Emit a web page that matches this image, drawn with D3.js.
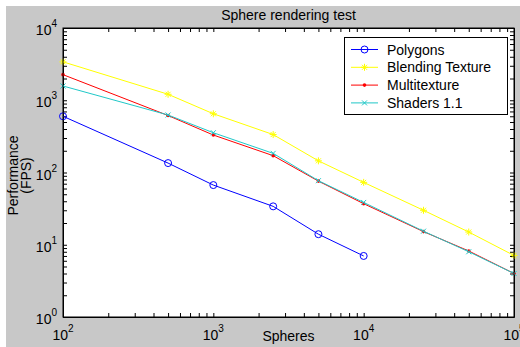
<!DOCTYPE html>
<html>
<head>
<meta charset="utf-8">
<script src="https://cdn.jsdelivr.net/npm/d3@7"></script>
<style>
  html, body { margin: 0; padding: 0; background: #ffffff; }
  svg { display: block; font-family: "Liberation Sans", Arial, sans-serif; }
</style>
</head>
<body>
<svg id="chart" width="520" height="347"></svg>
<script>
// ---- data ----
const spheres = [100, 500, 1000, 2500, 5000, 10000, 25000, 50000, 100000];
const polygons = [600, 135, 67, 34, 14, 7];
const blendingTexture = [3400, 1210, 650, 335, 145, 73, 30, 15, 7.1];
const multitexture = [2260, 615, 330, 171, 76, 37, 15.2, 8.2, 4.0];
const shaders11 = [1575, 625, 355, 184, 77, 38.5, 15.4, 8.0, 4.0];
const seriesNames = ["Polygons", "Blending Texture", "Multitexture", "Shaders 1.1"];
const xDecades = [2, 3, 4, 5];
const yDecades = [0, 1, 2, 3, 4];
const titleText = "Sphere rendering test";
const xLabel = "Spheres";
const yLabelLines = ["Performance", "(FPS)"];

const seriesValues = [polygons, blendingTexture, multitexture, shaders11];
const colors = ["#0000ff", "#ffff00", "#ff0000", "#20c8c8"];
const markers = ["circle", "star", "dot", "cross"];

const svg = d3.select("#chart");
const W = 520, H = 347;
const plot = { left: 63, right: 514, top: 28, bottom: 317 };

// figure background
svg.append("rect").attr("x", 6).attr("y", 6).attr("width", W - 6).attr("height", H - 6).attr("fill", "#c8c8c8");

const x = d3.scaleLog().domain([1e2, 1e5]).range([plot.left, plot.right]);
const y = d3.scaleLog().domain([1, 1e4]).range([plot.bottom, plot.top]);

// plot area
svg.append("rect").attr("x", plot.left).attr("y", plot.top)
  .attr("width", plot.right - plot.left).attr("height", plot.bottom - plot.top)
  .attr("fill", "#ffffff");

// tick values (major + minor)
function logTicks(d0, d1) {
  const t = [];
  for (let e = d0; e <= d1; e++) {
    for (let m = 1; m <= 9; m++) {
      const v = m * Math.pow(10, e);
      if (e === d1 && m > 1) break;
      t.push(v);
    }
  }
  return t;
}
const xTicks = logTicks(2, 5);
const yTicks = logTicks(0, 4);
const tickLen = 4;

function styleAxis(g) {
  g.select(".domain").attr("stroke", "#000").attr("stroke-width", 1);
  g.selectAll(".tick line").attr("stroke", "#000").attr("stroke-width", 1);
  g.selectAll(".tick text").remove();
}

svg.append("g").attr("transform", `translate(0,${plot.bottom})`)
  .call(d3.axisBottom(x).tickValues(xTicks).tickSizeInner(-tickLen).tickSizeOuter(0).tickFormat(""))
  .call(styleAxis);
svg.append("g").attr("transform", `translate(0,${plot.top})`)
  .call(d3.axisTop(x).tickValues(xTicks).tickSizeInner(-tickLen).tickSizeOuter(0).tickFormat(""))
  .call(styleAxis);
svg.append("g").attr("transform", `translate(${plot.left},0)`)
  .call(d3.axisLeft(y).tickValues(yTicks).tickSizeInner(-tickLen).tickSizeOuter(0).tickFormat(""))
  .call(styleAxis);
svg.append("g").attr("transform", `translate(${plot.right},0)`)
  .call(d3.axisRight(y).tickValues(yTicks).tickSizeInner(-tickLen).tickSizeOuter(0).tickFormat(""))
  .call(styleAxis);

// tick labels with superscripts
const xl = svg.append("g").attr("font-size", 14).attr("fill", "#000");
xDecades.forEach(e => {
  const t = xl.append("text").attr("x", x(Math.pow(10, e))).attr("y", 340).attr("text-anchor", "middle");
  t.append("tspan").text("10");
  t.append("tspan").attr("dy", -8).attr("font-size", 10).text(String(e));
});
const yl = svg.append("g").attr("font-size", 14).attr("fill", "#000");
yDecades.forEach(e => {
  const t = yl.append("text").attr("x", 57).attr("y", y(Math.pow(10, e)) + 7).attr("text-anchor", "end");
  t.append("tspan").text("10");
  t.append("tspan").attr("dy", -8).attr("font-size", 10).text(String(e));
});

// title and axis labels
svg.append("text").attr("x", (plot.left + plot.right) / 2).attr("y", 20)
  .attr("text-anchor", "middle").attr("font-size", 14).text(titleText);
svg.append("text").attr("x", (plot.left + plot.right) / 2).attr("y", 341)
  .attr("text-anchor", "middle").attr("font-size", 14).text(xLabel);
const yLab = svg.append("text").attr("transform", `translate(0,${(plot.top + plot.bottom) / 2 + 3}) rotate(-90)`)
  .attr("text-anchor", "middle").attr("font-size", 14);
yLab.append("tspan").attr("x", 0).attr("y", 18).text(yLabelLines[0]);
yLab.append("tspan").attr("x", 0).attr("y", 31).text(yLabelLines[1]);

// marker drawing
function drawMarker(g, type, cx, cy, color) {
  if (type === "circle") {
    g.append("circle").attr("cx", cx).attr("cy", cy).attr("r", 3.5)
      .attr("fill", "none").attr("stroke", color).attr("stroke-width", 1);
  } else if (type === "dot") {
    g.append("circle").attr("cx", cx).attr("cy", cy).attr("r", 1.8).attr("fill", color);
  } else if (type === "cross") {
    const s = 2.5;
    g.append("path").attr("d", `M${cx - s},${cy - s}L${cx + s},${cy + s}M${cx - s},${cy + s}L${cx + s},${cy - s}`)
      .attr("stroke", color).attr("stroke-width", 1);
  } else if (type === "star") {
    const s = 3.5, d = 2.5;
    g.append("path").attr("d",
      `M${cx - s},${cy}L${cx + s},${cy}M${cx},${cy - s}L${cx},${cy + s}` +
      `M${cx - d},${cy - d}L${cx + d},${cy + d}M${cx - d},${cy + d}L${cx + d},${cy - d}`)
      .attr("stroke", color).attr("stroke-width", 1);
  }
}

// series
const line = d3.line().x(d => x(d[0])).y(d => y(d[1]));
const plotG = svg.append("g");
seriesValues.forEach((vals, i) => {
  const pts = vals.map((v, j) => [spheres[j], v]);
  plotG.append("path").attr("d", line(pts)).attr("fill", "none")
    .attr("stroke", colors[i]).attr("stroke-width", 1);
  pts.forEach(p => drawMarker(plotG, markers[i], x(p[0]), y(p[1]), colors[i]));
});
// frame on top
svg.append("rect").attr("x", plot.left).attr("y", plot.top)
  .attr("width", plot.right - plot.left).attr("height", plot.bottom - plot.top)
  .attr("fill", "none").attr("stroke", "#000").attr("stroke-width", 1);

// legend
const lg = svg.append("g");
lg.append("rect").attr("x", 344.5).attr("y", 37.5).attr("width", 163).attr("height", 77)
  .attr("fill", "#ffffff").attr("stroke", "#000").attr("stroke-width", 1);
seriesNames.forEach((name, i) => {
  const cy = 49.5 + i * 17.8;
  lg.append("line").attr("x1", 351).attr("x2", 378).attr("y1", cy).attr("y2", cy)
    .attr("stroke", colors[i]).attr("stroke-width", 1);
  drawMarker(lg, markers[i], 364.5, cy, colors[i]);
  lg.append("text").attr("x", 387).attr("y", cy + 5).attr("font-size", 14).text(name);
});
</script>
</body>
</html>
